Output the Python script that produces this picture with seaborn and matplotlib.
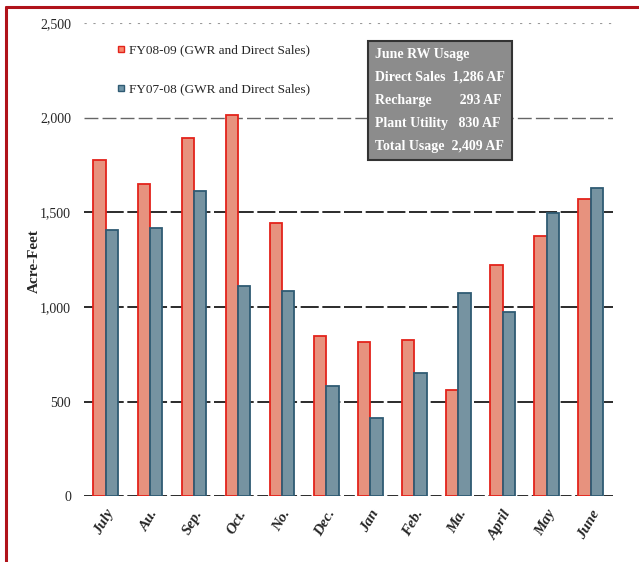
import matplotlib
matplotlib.use("Agg")
import matplotlib.pyplot as plt
from matplotlib.lines import Line2D
import seaborn as sns
import pandas as pd

months = ["July", "Au.", "Sep.", "Oct.", "No.", "Dec.", "Jan", "Feb.", "Ma.", "April", "May", "June"]
fy0809 = [1776, 1652, 1891, 2013, 1444, 847, 814, 823, 561, 1222, 1373, 1571]
fy0708 = [1405, 1416, 1612, 1109, 1086, 580, 411, 650, 1074, 971, 1494, 1630]
series_names = ["FY08-09 (GWR and Direct Sales)", "FY07-08 (GWR and Direct Sales)"]
yticks = [0, 500, 1000, 1500, 2000, 2500]
ytick_labels = ["0", "500", "1,000", "1,500", "2,000", "2,500"]
usage_lines = ["June RW Usage", "Direct Sales  1,286 AF", "Recharge        293 AF",
               "Plant Utility   830 AF", "Total Usage  2,409 AF"]

df = pd.DataFrame({
    "month": months * 2,
    "value": fy0809 + fy0708,
    "series": [series_names[0]] * len(months) + [series_names[1]] * len(months),
})

fills = ["#F8876D", "#6F95A8"]
edges = ["#E3231B", "#2F5B73"]

sns.set_theme(style="white")
plt.rcParams["font.family"] = ["Liberation Serif", "DejaVu Serif"]

fig = plt.figure(figsize=(6.39, 5.62), dpi=100)
ax = fig.add_axes([0.131, 0.117, 0.828, 0.842])

sns.barplot(data=df, x="month", y="value", hue="series", order=months,
            hue_order=series_names, palette=fills, width=0.56, gap=0.0,
            ax=ax, legend=False, zorder=3)

for i, cont in enumerate(ax.containers):
    for bar in cont:
        bar.set_edgecolor(edges[i])
        bar.set_linewidth(1.3)

ax.set_ylim(0, 2500)
ax.set_xlim(-0.5, 11.5)
ax.set_yticks(yticks)
ax.set_yticklabels(ytick_labels, fontsize=10)
ax.tick_params(axis="y", length=0, pad=9)
ax.tick_params(axis="x", length=0, pad=8)
for lbl in ax.get_xticklabels():
    lbl.set_rotation(60)
    lbl.set_ha("right")
    lbl.set_rotation_mode("anchor")
    lbl.set_fontstyle("italic")
    lbl.set_fontweight("bold")
    lbl.set_fontsize(11)

for y in yticks:
    if y == 2500:
        ax.axhline(y, color="#9a9a9a", lw=0.8, dashes=(2, 6), zorder=1)
    elif y == 2000:
        ax.axhline(y, color="#666666", lw=1.0, dashes=(10, 3), zorder=1)
    else:
        ax.axhline(y, color="#1a1a1a", lw=1.3, dashes=(10, 2) if y > 0 else (6, 2), zorder=1)

for s in ax.spines.values():
    s.set_visible(False)

ax.set_xlabel("")
ax.set_ylabel("")
fig.text(0.054, 0.535, "Acre-Feet", rotation=90, ha="center", va="center",
         fontsize=11, fontweight="bold")

handles = [Line2D([], [], marker="s", ls="none", markersize=5,
                  markerfacecolor=fills[i], markeredgecolor=edges[i])
           for i in range(2)]
ax.legend(handles, series_names, loc="upper left", bbox_to_anchor=(0.045, 0.966),
          frameon=False, fontsize=9.5, handletextpad=0.05, labelspacing=2.0,
          handlelength=1.2, borderaxespad=0)

ax.text(0.55, 0.948, "\n".join(usage_lines), transform=ax.transAxes,
        ha="left", va="top", color="white", fontsize=10, linespacing=2.0,
        fontweight="bold",
        bbox=dict(boxstyle="square,pad=0.5", facecolor="#8C8C8C",
                  edgecolor="#333333", lw=1.5), zorder=5)

# red frame along the top and left edge
fig.add_artist(Line2D([0.009, 1.0], [0.988, 0.988], color="#B0121A", lw=2.2,
                      transform=fig.transFigure))
fig.add_artist(Line2D([0.009, 0.009], [0.0, 0.988], color="#B0121A", lw=2.2,
                      transform=fig.transFigure))

fig.savefig("out.png", dpi=100)
